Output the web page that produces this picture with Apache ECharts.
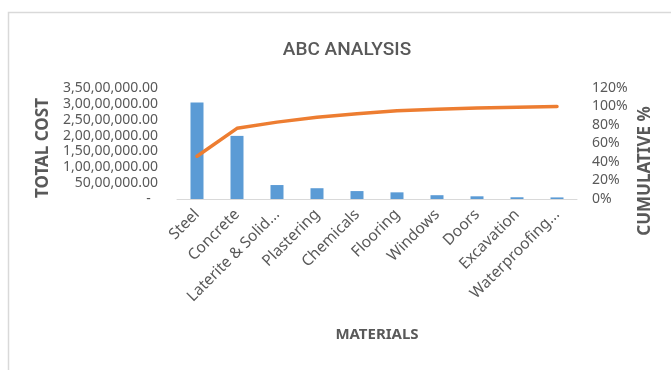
<!DOCTYPE html>
<html>
<head>
<meta charset="utf-8">
<script src="https://cdn.jsdelivr.net/npm/echarts@6/dist/echarts.min.js"></script>
<style>
  html, body { margin: 0; padding: 0; background: #fff; }
  #chart { width: 671px; height: 370px; }
</style>
</head>
<body>
<div id="chart"></div>
<script>
// Material categories (long names are shortened on the axis)
const materials = ['Steel', 'Concrete', 'Laterite & Solid...', 'Plastering', 'Chemicals',
  'Flooring', 'Windows', 'Doors', 'Excavation', 'Waterproofing...'];

// Total cost per material (INR)
const totalCost = [30400000, 19900000, 4400000, 3400000, 2500000,
  2100000, 1200000, 850000, 550000, 500000];

// Cumulative share of total cost
const cumulativePct = [0.462, 0.764, 0.831, 0.883, 0.921,
  0.953, 0.971, 0.984, 0.992, 1.0];

// Axis tick settings
const costMax = 35000000;
const costStep = 5000000;
const pctMax = 1.2;
const pctStep = 0.2;

const textGrey = '#595959';
const baseFont = "'Noto Sans', sans-serif";

// Indian digit grouping, e.g. 3,50,00,000.00
function indianFormat(v) {
  if (v === 0) return '-  ';
  const s = Math.round(v).toString();
  let last3 = s.slice(-3);
  let rest = s.slice(0, -3);
  if (rest) {
    rest = rest.replace(/\B(?=(\d{2})+(?!\d))/g, ',');
    last3 = rest + ',' + last3;
  }
  return last3 + '.00';
}

const chart = echarts.init(document.getElementById('chart'), null, { renderer: 'canvas' });

const axisTitleStyle = {
  fill: textGrey,
  font: "bold 17px 'Noto Sans', sans-serif",
  align: 'center',
  verticalAlign: 'middle'
};

chart.setOption({
  backgroundColor: '#fff',
  animation: false,
  textStyle: { fontFamily: baseFont },
  graphic: [
    {
      type: 'rect',
      shape: { x: 8.5, y: 12.5, width: 700, height: 400 },
      style: { fill: 'none', stroke: '#D9D9D9', lineWidth: 1.5 },
      silent: true
    },
    {
      // left axis title
      type: 'text',
      x: 43,
      y: 148,
      rotation: Math.PI / 2,
      style: Object.assign({ text: 'TOTAL COST' }, axisTitleStyle),
      silent: true
    },
    {
      // right axis title
      type: 'text',
      x: 645,
      y: 171,
      rotation: Math.PI / 2,
      style: Object.assign({ text: 'CUMULATIVE %' }, axisTitleStyle),
      silent: true
    }
  ],
  title: {
    text: 'ABC ANALYSIS',
    left: 342,
    textAlign: 'center',
    top: 36,
    textStyle: {
      fontFamily: "Roboto, 'Noto Sans', sans-serif",
      fontSize: 19,
      fontWeight: 500,
      color: textGrey
    }
  },
  grid: { left: 177, right: 94, top: 88, bottom: 171, containLabel: false },
  xAxis: {
    type: 'category',
    data: materials,
    name: 'MATERIALS',
    nameLocation: 'middle',
    nameGap: 128,
    nameTextStyle: { fontFamily: baseFont, fontSize: 15, fontWeight: 'bold', color: textGrey },
    axisLine: { lineStyle: { color: '#D9D9D9', width: 1 } },
    axisTick: { show: false },
    axisLabel: {
      rotate: 45,
      interval: 0,
      margin: 13,
      fontSize: 15.5,
      color: textGrey,
      fontFamily: baseFont
    }
  },
  yAxis: [
    {
      type: 'value',
      min: 0,
      max: costMax,
      interval: costStep,
      splitLine: { show: false },
      axisLine: { show: false },
      axisTick: { show: false },
      axisLabel: {
        margin: 19,
        fontSize: 14,
        color: textGrey,
        fontFamily: baseFont,
        formatter: indianFormat
      }
    },
    {
      type: 'value',
      min: 0,
      max: pctMax,
      interval: pctStep,
      splitLine: { show: false },
      axisLine: { show: false },
      axisTick: { show: false },
      axisLabel: {
        margin: 15,
        fontSize: 14,
        color: textGrey,
        fontFamily: baseFont,
        formatter: function (v) { return Math.round(v * 100) + '%'; }
      }
    }
  ],
  series: [
    {
      name: 'Total Cost',
      type: 'bar',
      data: totalCost,
      barWidth: 13,
      itemStyle: { color: '#5B9BD5' },
      yAxisIndex: 0
    },
    {
      name: 'Cumulative %',
      type: 'line',
      data: cumulativePct,
      yAxisIndex: 1,
      symbol: 'none',
      smooth: false,
      lineStyle: { color: '#ED7D31', width: 3.5, cap: 'round', join: 'round' },
      z: 3
    }
  ]
});
</script>
</body>
</html>
